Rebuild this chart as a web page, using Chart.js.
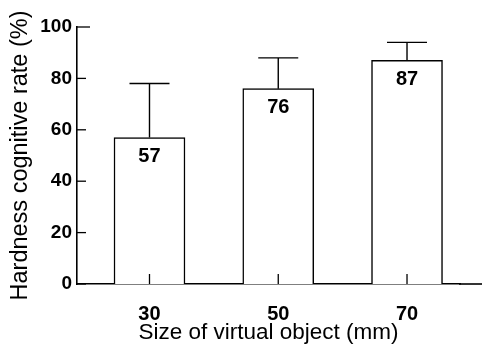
<!DOCTYPE html>
<html>
<head>
<meta charset="utf-8">
<script src="https://cdn.jsdelivr.net/npm/chart.js@4/dist/chart.umd.min.js"></script>
<style>
html,body{margin:0;padding:0;background:#fff;}
#wrap{width:482px;height:353px;}
</style>
</head>
<body>
<div id="wrap"><canvas id="c" width="482" height="353"></canvas></div>
<script>
const categories = [30, 50, 70];
const values = [57, 76, 87];
const errors = [21, 12, 7];
const yTicks = [0, 20, 40, 60, 80, 100];
const xTitle = 'Size of virtual object (mm)';
const yTitle = 'Hardness cognitive rate (%)';

const FONT = "'Liberation Sans', Arial, Helvetica, sans-serif";

const extras = {
  id: 'extras',
  afterDatasetsDraw(chart) {
    const ctx = chart.ctx;
    const xs = chart.scales.x, ys = chart.scales.y;
    const area = chart.chartArea;
    ctx.save();
    ctx.strokeStyle = '#000';
    ctx.fillStyle = '#000';
    ctx.lineWidth = 1.6;
    ctx.beginPath();
    ctx.moveTo(area.right - 1, ys.getPixelForValue(0));
    ctx.lineTo(chart.width, ys.getPixelForValue(0));
    ctx.stroke();
    ctx.lineWidth = 1.3;
    yTicks.forEach(v => {
      const py = ys.getPixelForValue(v);
      ctx.beginPath();
      ctx.moveTo(area.left, py);
      ctx.lineTo(area.left + (v === 100 ? 13 : 9), py);
      ctx.stroke();
    });
    categories.forEach(c => {
      const px = xs.getPixelForValue(c);
      const py = ys.getPixelForValue(0);
      ctx.beginPath();
      ctx.moveTo(px, py);
      ctx.lineTo(px, py - 10);
      ctx.stroke();
    });
    ctx.lineWidth = 1.4;
    categories.forEach((c, i) => {
      const px = xs.getPixelForValue(c);
      const top = ys.getPixelForValue(values[i]);
      const et = ys.getPixelForValue(values[i] + errors[i]);
      ctx.beginPath();
      ctx.moveTo(px, top);
      ctx.lineTo(px, et);
      ctx.moveTo(px - 20, et);
      ctx.lineTo(px + 20, et);
      ctx.stroke();
    });
    ctx.font = 'bold 20px ' + FONT;
    ctx.textAlign = 'center';
    ctx.textBaseline = 'middle';
    categories.forEach((c, i) => {
      const px = xs.getPixelForValue(c);
      const top = ys.getPixelForValue(values[i]);
      ctx.fillText(String(values[i]), px, top + 19);
    });
    ctx.restore();
  }
};

new Chart(document.getElementById('c'), {
  type: 'bar',
  data: {
    datasets: [{
      data: categories.map((c, i) => ({x: c, y: values[i]})),
      backgroundColor: '#fff',
      borderColor: '#000',
      borderWidth: 1.5,
      borderSkipped: 'bottom',
      barThickness: 71
    }]
  },
  options: {
    responsive: false,
    animation: false,
    devicePixelRatio: 1,
    layout: {padding: {top: 27, right: 22, bottom: 0, left: 0}},
    plugins: {legend: {display: false}, tooltip: {enabled: false}},
    scales: {
      x: {
        type: 'linear',
        offset: false,
        min: 18.74,
        max: 78.23,
        afterBuildTicks: s => { s.ticks = categories.map(v => ({value: v})); },
        afterFit: s => { s.height = 69; },
        grid: {display: false, drawTicks: false, offset: false},
        border: {display: true, color: '#000', width: 1.6},
        ticks: {color: '#000', padding: 18, font: {family: FONT, size: 20, weight: 'bold'}, callback: v => String(v)},
        title: {display: true, text: xTitle, color: '#000', font: {family: FONT, size: 22.5}, padding: {top: 0, bottom: 7}}
      },
      y: {
        min: 0,
        max: 100,
        afterBuildTicks: s => { s.ticks = yTicks.map(v => ({value: v})); },
        afterFit: s => { s.width = 77; },
        grid: {display: false, drawTicks: false},
        border: {display: true, color: '#000', width: 1.6},
        ticks: {color: '#000', padding: 5, font: {family: FONT, size: 19, weight: 'bold'}},
        title: {display: true, text: yTitle, color: '#000', font: {family: FONT, size: 23.5}, padding: {top: 6, bottom: 0}}
      }
    }
  },
  plugins: [extras]
});
</script>
</body>
</html>
